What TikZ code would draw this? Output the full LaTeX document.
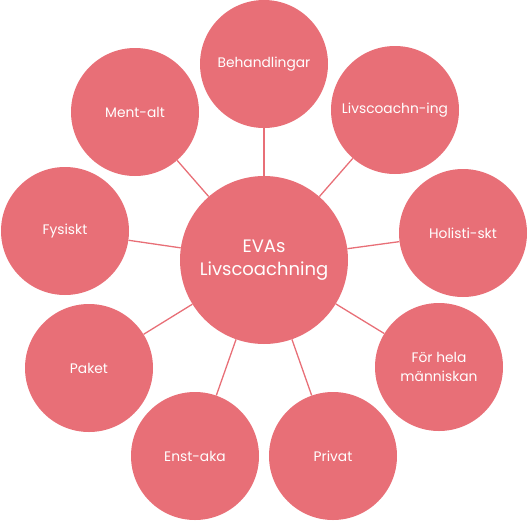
\documentclass[tikz,border=0pt]{standalone}
\usepackage{fontspec}
\setmainfont{Poppins}
\definecolor{petal}{RGB}{232,111,119}
\begin{document}
\begin{tikzpicture}[x=1pt,y=-1pt,
  hub/.style={circle,fill=petal,minimum size=168pt,inner sep=0pt,text=white,font=\fontsize{18}{23}\selectfont,align=center},
  leaf/.style={circle,fill=petal,minimum size=128pt,inner sep=0pt,text=white,font=\fontsize{13.8}{19}\selectfont,align=center},
  link/.style={draw=petal,line width=1.3pt}]
\useasboundingbox (0,0) rectangle (528,520);
\node[hub] (c) at (264,260) {EVAs\\Livscoachning};
\node[leaf] (b) at (264,64) {Behandlingar};
\node[leaf] (l) at (395,110) {Livscoachn-ing};
\node[leaf] (h) at (463,233) {Holisti-skt};
\node[leaf] (f) at (439,367) {För hela\\människan};
\node[leaf] (p) at (333,456) {Privat};
\node[leaf] (e) at (195,456) {Enst-aka};
\node[leaf] (k) at (89,368) {Paket};
\node[leaf] (y) at (65,231) {Fysiskt};
\node[leaf] (m) at (135,112) {Ment-alt};
\foreach \n in {b,l,h,f,p,e,k,y,m} \draw[link] (c) -- (\n);
\end{tikzpicture}
\end{document}
